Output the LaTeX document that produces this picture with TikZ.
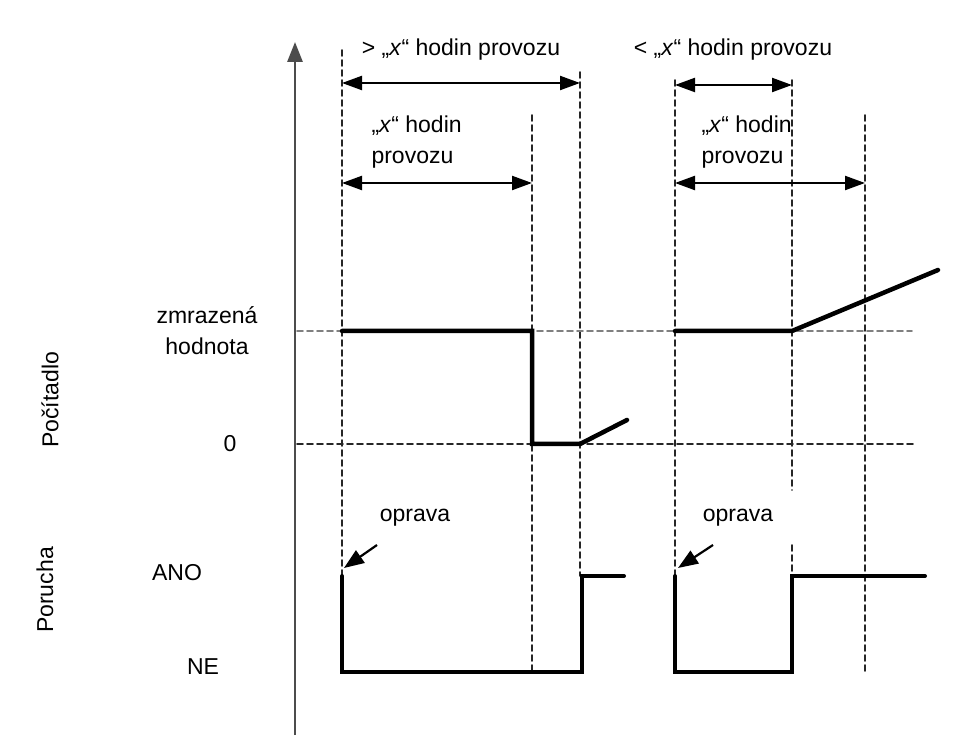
\documentclass[tikz,border=0pt]{standalone}
\usepackage{fontspec}
\setmainfont{Liberation Sans}
\usetikzlibrary{arrows.meta,calc}
\usepackage{tkz-euclide}
\definecolor{GuideClr}{rgb}{0.15,0.15,0.15}
\definecolor{AxisClr}{rgb}{0.3,0.3,0.3}
\tikzset{guide/.style={line width=1.7pt,dash pattern=on 6pt off 4pt,color=GuideClr},
  span/.style={line width=2.2pt,{Stealth[length=20pt,width=14pt,inset=0pt]}-{Stealth[length=20pt,width=14pt,inset=0pt]}},
  hint/.style={line width=2.2pt,-{Stealth[length=20pt,width=15pt,inset=0pt]}}}

\begin{document}
\begin{tikzpicture}[x=1pt,y=1pt,font=\fontsize{23}{31}\selectfont]
\useasboundingbox (0,0) rectangle (973,755);
\tkzSetUpLine[line width=4.5pt,color=black]

\tkzDefPoints{295/20/O,295/713/T}
% counter
\tkzDefPoints{342/424/P1,532/424/P2,532/311/P3,580/311/P4,627/335/P5}
\tkzDefPoints{675/424/Q1,792/424/Q2,938/485/Q3}
% fault
\tkzDefPoints{342/179/R1,342/83/R2,582/83/R3,582/179/R4,624/179/R5}
\tkzDefPoints{675/179/S1,675/83/S2,792/83/S3,792/179/S4,925/179/S5}
% guide lines
\tkzDefPoints{342/705/A1,342/82/A2,532/640/B1,532/83/B2,580/683/C1,580/179/C2}
\tkzDefPoints{675/675/D1,675/179/D2,792/675/E1,792/265/E2,792/210/E3,792/179/E4}
\tkzDefPoints{865/640/F1,865/83/F2,297/424/H1,912/424/H2,297/311/Z1,913/311/Z2}
% spans
\tkzDefPoints{342/672/L1,580/672/L2,342/572/M1,532/572/M2}
\tkzDefPoints{675/670/N1,792/670/N2,675/572/K1,865/572/K2}
% repair
\tkzDefPoints{377/210/U1,344/187/U2,713/210/V1,678/187/V2}

\tkzDrawSegments[guide](A1,A2 B1,B2 C1,C2 D1,D2 E1,E2 E3,E4 F1,F2)
\tkzDrawSegments[guide,color=gray](H1,H2)
\tkzDrawSegments[guide](Z1,Z2)
\draw[line width=2.8pt,color=AxisClr,-{Stealth[length=20pt,width=15pt,inset=0pt]}] (O) -- (T);

\tkzDrawPolySeg[line width=4.5pt](P1,P2,P3,P4,P5)
\tkzDrawPolySeg[line width=4.5pt](Q1,Q2,Q3)
\tkzDrawPolySeg[line width=4pt](R1,R2,R3,R4,R5)
\tkzDrawPolySeg[line width=4pt](S1,S2,S3,S4,S5)

\draw[span] (L1) -- (L2);
\draw[span] (M1) -- (M2);
\draw[span] (N1) -- (N2);
\draw[span] (K1) -- (K2);
\draw[hint] (U1) -- (U2);
\draw[hint] (V1) -- (V2);

\node (long) at (461,705) {> „\textit{x}“ hodin provozu};
\node (short) at (733,705) {< „\textit{x}“ hodin provozu};
\node[anchor=west,align=left] (durL) at (368,613) {„\textit{x}“ hodin\\provozu};
\node[anchor=west,align=left] (durR) at (698,613) {„\textit{x}“ hodin\\provozu};

\node[align=center] (frozen) at (207,424) {zmrazená\\hodnota};
\node (zero) at (230,311) {0};
\node (yes) at (177,182) {ANO};
\node (no) at (203,88) {NE};
\node[rotate=90] (counter) at (50,355) {Počítadlo};
\node[rotate=90] (fault) at (45,165) {Porucha};
\node (fixL) at (415,237) {oprava};
\node (fixR) at (738,237) {oprava};

\end{tikzpicture}
\end{document}
